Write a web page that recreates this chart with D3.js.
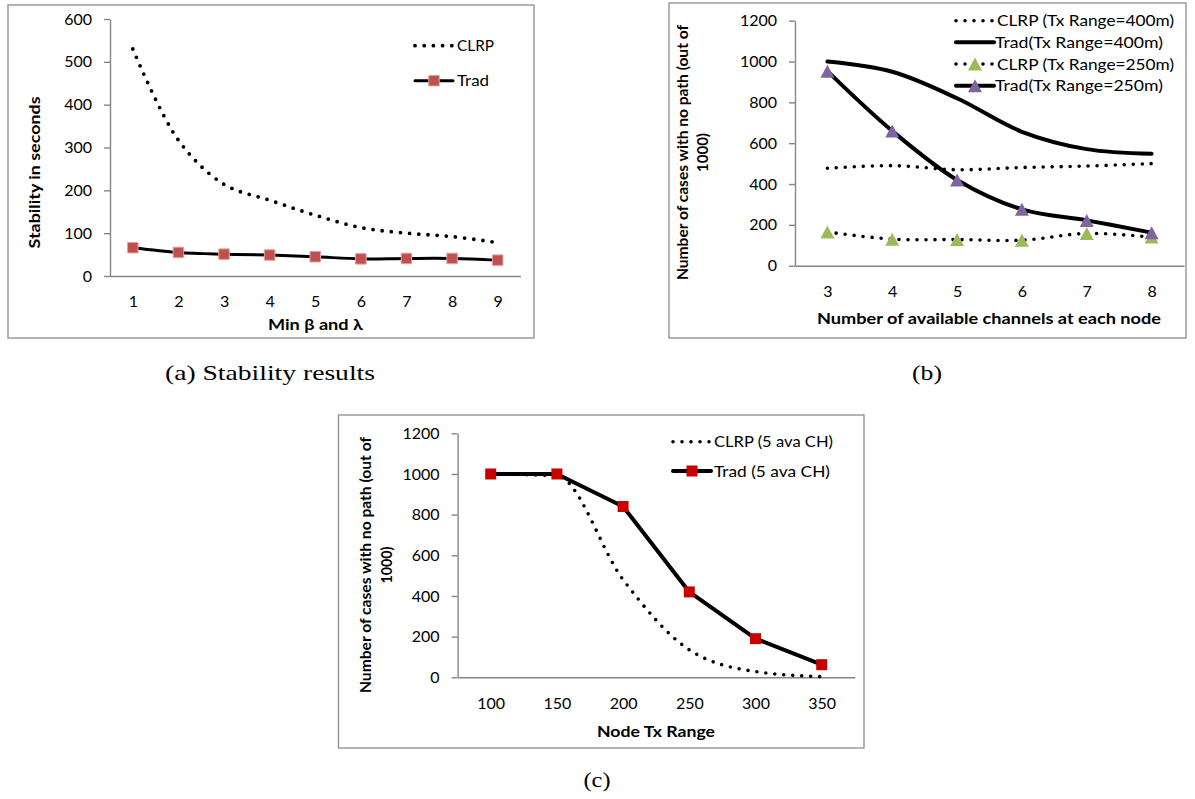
<!DOCTYPE html>
<html><head><meta charset="utf-8">
<script src="https://cdn.jsdelivr.net/npm/d3@7"></script>
<style>body{margin:0;background:#fff}svg{display:block}</style>
</head><body>
<svg id="chart" width="1195" height="799"></svg>
<script>
// ---------- data ----------
const aCategories = [1, 2, 3, 4, 5, 6, 7, 8, 9];
const aCLRP = [530, 317, 214, 177, 142, 113, 100, 92, 78];
const aTrad = [66, 55, 51, 49, 45, 40, 41, 41, 37];
const aYTicks = [0, 100, 200, 300, 400, 500, 600];
const aSeriesNames = ["CLRP", "Trad"];

const bCategories = [3, 4, 5, 6, 7, 8];
const bCLRP400 = [477, 490, 470, 481, 488, 500];
const bTrad400 = [1000, 950, 820, 656, 571, 548];
const bCLRP250 = [165, 130, 128, 125, 158, 140];
const bTrad250 = [953, 660, 420, 276, 222, 162];
const bYTicks = [0, 200, 400, 600, 800, 1000, 1200];
const bSeriesNames = ["CLRP (Tx Range=400m)", "Trad(Tx Range=400m)", "CLRP (Tx Range=250m)", "Trad(Tx Range=250m)"];

const cCategories = [100, 150, 200, 250, 300, 350];
const cCLRP = [1000, 990, 480, 135, 28, 3];
const cTrad = [1000, 1000, 840, 420, 190, 62];
const cYTicks = [0, 200, 400, 600, 800, 1000, 1200];
const cSeriesNames = ["CLRP (5 ava CH)", "Trad (5 ava CH)"];

// ---------- drawing ----------
const svg = d3.select("#chart");
const FONT = "Lato, 'Open Sans', sans-serif";
const AXIS_COLOR = "#868686";

function markerPath(kind, cx, cy, s) {
  const p = d3.path();
  if (kind === "square") {
    p.rect(cx - s / 2, cy - s / 2, s, s);
  } else {
    p.moveTo(cx, cy - s / 2);
    p.lineTo(cx + s / 2 + 0.5, cy + s / 2);
    p.lineTo(cx - s / 2 - 0.5, cy + s / 2);
    p.closePath();
  }
  return p.toString();
}

function styleLine(sel, s) {
  sel.attr("fill", "none").attr("stroke", "#000").attr("stroke-width", s.width);
  if (s.dotted) {
    sel.attr("stroke-dasharray", "0 " + s.gap).attr("stroke-linecap", "round");
  } else {
    sel.attr("stroke-linejoin", "round").attr("stroke-linecap", "round");
  }
}

function drawMarker(g, s, cx, cy) {
  g.append("path").attr("d", markerPath(s.marker, cx, cy, s.mSize))
    .attr("fill", s.mColor)
    .attr("stroke", s.mStroke || "none")
    .attr("stroke-width", s.mStroke ? 1 : 0);
}

function panel(cfg) {
  const g = svg.append("g");
  g.append("rect").attr("x", cfg.box[0]).attr("y", cfg.box[1])
    .attr("width", cfg.box[2]).attr("height", cfg.box[3])
    .attr("fill", "#fff").attr("stroke", "#8c8c8c").attr("stroke-width", 1.3);

  const x = d3.scalePoint().domain(cfg.categories).range([cfg.left, cfg.right]).padding(0.5);
  const y = d3.scaleLinear().domain([0, cfg.yMax]).range([cfg.bottom, cfg.top]);

  const ya = g.append("g").attr("transform", `translate(${cfg.left},0)`)
    .call(d3.axisLeft(y).tickValues(cfg.yTicks).tickFormat(d3.format("d"))
      .tickSize(6).tickSizeOuter(0).tickPadding(12));
  const xa = g.append("g").attr("transform", `translate(0,${cfg.bottom})`)
    .call(d3.axisBottom(x).tickSize(0).tickSizeOuter(0).tickPadding(cfg.xPad));
  [ya, xa].forEach(a => {
    a.selectAll("path,line").attr("stroke", AXIS_COLOR).attr("stroke-width", 1.4);
    a.selectAll("text").attr("font-family", FONT).attr("font-size", 16).attr("fill", "#000");
  });

  // series
  cfg.series.forEach(s => {
    const line = d3.line().x((d, i) => x(cfg.categories[i])).y(d => y(d)).curve(s.curve);
    styleLine(g.append("path").datum(s.values).attr("d", line), s);
    if (s.marker) {
      s.values.forEach((v, i) => drawMarker(g, s, x(cfg.categories[i]), y(v)));
    }
  });

  // legend
  cfg.series.forEach((s, i) => {
    const ly = cfg.legend.y[i];
    const seg = g.append("path").attr("d", d3.line()([[cfg.legend.x0, ly], [cfg.legend.x1, ly]]));
    styleLine(seg, s);
    if (s.marker) drawMarker(g, s, (cfg.legend.x0 + cfg.legend.x1) / 2, ly);
    g.append("text").attr("x", cfg.legend.tx[i]).attr("y", ly + 5.5)
      .attr("font-family", FONT).attr("font-size", 16)
      .attr("textLength", cfg.legend.tw[i]).attr("lengthAdjust", "spacingAndGlyphs")
      .text(cfg.names[i]);
  });

  // axis titles
  cfg.yTitle.forEach(t => {
    g.append("text").attr("transform", `translate(${t.x},${t.cy}) rotate(-90)`)
      .attr("text-anchor", "middle").attr("font-family", FONT).attr("font-weight", "bold")
      .attr("font-size", 15).attr("textLength", t.w).attr("lengthAdjust", "spacingAndGlyphs")
      .text(t.text);
  });
  g.append("text").attr("x", cfg.xTitle.cx).attr("y", cfg.xTitle.y)
    .attr("text-anchor", "middle").attr("font-family", FONT).attr("font-weight", "bold")
    .attr("font-size", 16).attr("textLength", cfg.xTitle.w).attr("lengthAdjust", "spacingAndGlyphs")
    .text(cfg.xTitle.text);

  // caption
  svg.append("text").attr("x", cfg.caption.cx).attr("y", cfg.caption.y)
    .attr("text-anchor", "middle").attr("font-family", "'Liberation Serif', 'DejaVu Serif', serif")
    .attr("font-size", 21).attr("textLength", cfg.caption.w).attr("lengthAdjust", "spacingAndGlyphs")
    .text(cfg.caption.text);
}

const smooth = d3.curveCatmullRom.alpha(0.5);
const dotted = (values, extra) => Object.assign({ values, dotted: true, width: 3.8, gap: 9.2, curve: smooth }, extra || {});
const solid = (values, extra) => Object.assign({ values, dotted: false, width: 3.2, curve: smooth }, extra || {});

// panel (a)
panel({
  box: [8, 5, 526, 333], left: 110, right: 520.5, top: 19, bottom: 276, yMax: 600,
  yTicks: aYTicks, categories: aCategories, xPad: 20, names: aSeriesNames,
  series: [
    dotted(aCLRP),
    solid(aTrad, { width: 3, marker: "square", mSize: 10.5, mColor: "#c0504d", mStroke: "#e0a09e" })
  ],
  legend: { x0: 415, x1: 453, y: [45.7, 80.7], tx: [457, 457], tw: [37, 32] },
  yTitle: [{ x: 40, cy: 172.5, w: 152, text: "Stability in seconds" }],
  xTitle: { cx: 315.5, y: 330, w: 95, text: "Min β and λ" },
  caption: { cx: 270, y: 380, w: 210, text: "(a) Stability results" }
});

// panel (b)
panel({
  box: [669, 3, 517, 335], left: 795, right: 1184, top: 20.7, bottom: 265.7, yMax: 1200,
  yTicks: bYTicks, categories: bCategories, xPad: 20, names: bSeriesNames,
  series: [
    dotted(bCLRP400, { width: 3.6, gap: 9 }),
    solid(bTrad400, { width: 4 }),
    dotted(bCLRP250, { width: 3.6, gap: 9, marker: "triangle", mSize: 13, mColor: "#9bbb59" }),
    solid(bTrad250, { width: 4, marker: "triangle", mSize: 13, mColor: "#8064a2" })
  ],
  legend: { x0: 956, x1: 994, y: [20.7, 42.3, 64, 85.7], tx: [997, 995, 997, 995], tw: [177, 168, 177, 168] },
  yTitle: [
    { x: 688, cy: 152.5, w: 255, text: "Number of cases with no path (out of" },
    { x: 707.5, cy: 152.5, w: 39, text: "1000)" }
  ],
  xTitle: { cx: 989, y: 324, w: 344, text: "Number of available channels at each node" },
  caption: { cx: 927, y: 380, w: 30, text: "(b)" }
});

// panel (c)
panel({
  box: [338.5, 415, 525.5, 333], left: 457.6, right: 854.8, top: 433.3, bottom: 677.3, yMax: 1200,
  yTicks: cYTicks, categories: cCategories, xPad: 20, names: cSeriesNames,
  series: [
    dotted(cCLRP, { width: 3.6, gap: 9, curve: d3.curveMonotoneX }),
    solid(cTrad, { width: 4, curve: d3.curveLinear, marker: "square", mSize: 11, mColor: "#c80000" })
  ],
  legend: { x0: 673, x1: 711, y: [441.7, 471], tx: [714, 714], tw: [119, 116] },
  yTitle: [
    { x: 371, cy: 565, w: 256, text: "Number of cases with no path (out of" },
    { x: 392, cy: 565, w: 37, text: "1000)" }
  ],
  xTitle: { cx: 656, y: 737, w: 118, text: "Node Tx Range" },
  caption: { cx: 597, y: 787, w: 27, text: "(c)" }
});
</script>
</body></html>
